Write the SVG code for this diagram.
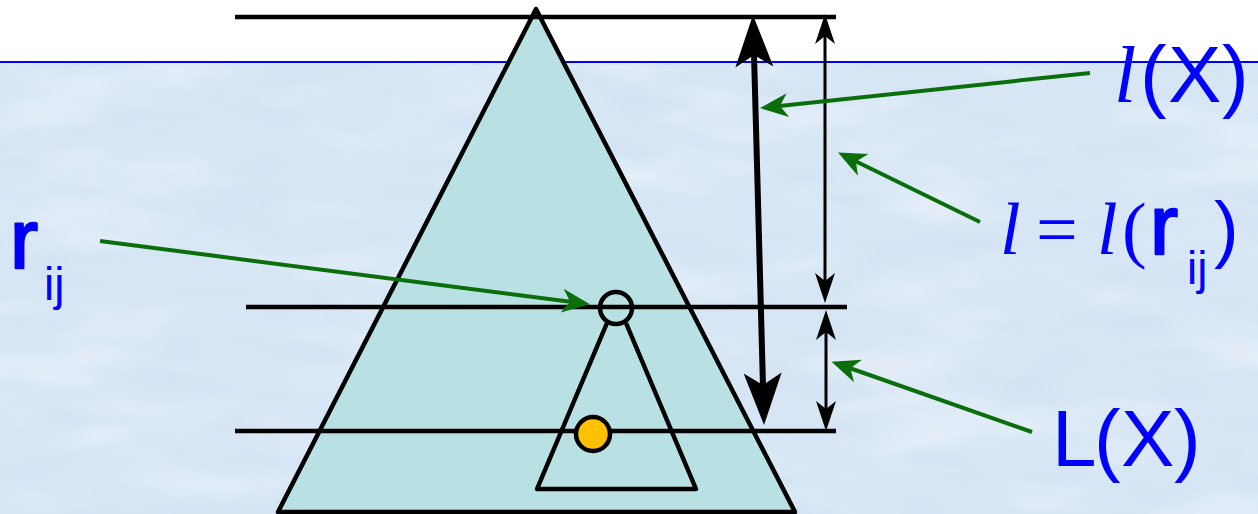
<svg xmlns="http://www.w3.org/2000/svg" width="1258" height="514" viewBox="0 0 1258 514">
<style>
.blk{stroke:#000;fill:none;stroke-width:4.5;stroke-linecap:butt}
.grn{stroke:#0a6e0a;stroke-width:4;fill:none}
.lbl{fill:#0000ff;font-family:"Liberation Sans",Arial,sans-serif}
.it{font-family:"Liberation Serif","Times New Roman",serif;font-style:italic}
.sr{font-family:"Liberation Serif","Times New Roman",serif}
.r{stroke:#0000ff;stroke-width:2.5;stroke-linejoin:round}
</style>
<defs>
<filter id="tex" x="0" y="0" width="100%" height="100%">
<feTurbulence type="fractalNoise" baseFrequency="0.006 0.02" numOctaves="3" seed="7"/>
<feColorMatrix type="matrix" values="0 0 0 0 1  0 0 0 0 1  0 0 0 0 1  1.6 0 0 0 -0.75"/>
</filter>
<filter id="tex2" x="0" y="0" width="100%" height="100%">
<feTurbulence type="fractalNoise" baseFrequency="0.01 0.03" numOctaves="2" seed="21"/>
<feColorMatrix type="matrix" values="0 0 0 0 0.55  0 0 0 0 0.65  0 0 0 0 0.8  1.4 0 0 0 -0.7"/>
</filter>
<marker id="bigHead" markerUnits="userSpaceOnUse" viewBox="-58 -22 60 44" markerWidth="60" markerHeight="44" refX="-20" refY="0" orient="auto-start-reverse">
<path d="M0,0 L-52,-19 L-40,0 L-52,19 Z" fill="#000"/>
</marker>
<marker id="thinHead" markerUnits="userSpaceOnUse" viewBox="-32 -12 34 24" markerWidth="34" markerHeight="24" refX="-10" refY="0" orient="auto-start-reverse">
<path d="M0,0 L-30,-10 L-22,0 L-30,10 Z" fill="#000"/>
</marker>
<marker id="grnHead" markerUnits="userSpaceOnUse" viewBox="-32 -14 34 28" markerWidth="34" markerHeight="28" refX="-10" refY="0" orient="auto">
<path d="M0,0 L-28,-12 L-20,0 L-28,12 Z" fill="#0a6e0a"/>
</marker>
</defs>
<g id="background">
<rect x="0" y="0" width="1258" height="514" fill="#ffffff"/>
<rect x="0" y="62" width="1258" height="452" fill="#d7e6f5"/>
<rect x="0" y="62" width="1258" height="452" filter="url(#tex)" opacity="0.6"/>
<rect x="0" y="62" width="1258" height="452" filter="url(#tex2)" opacity="0.35"/>
<line x1="0" y1="62" x2="1258" y2="62" stroke="#0000ff" stroke-width="2"/>
</g>
<g id="big-triangle">
<polygon points="536,9 278,512 795,512" fill="#b9e0e2" stroke="#000" stroke-width="4.5" stroke-linejoin="round"/>
</g>
<g id="levels">
<line class="blk" x1="235" y1="17" x2="836" y2="17"/>
<line class="blk" x1="246" y1="307" x2="847" y2="307"/>
<line class="blk" x1="235" y1="431" x2="836" y2="431"/>
</g>
<g id="subtree">
<polyline points="607,323 537,489 696,489 626,323" fill="none" stroke="#000" stroke-width="4.5" stroke-linejoin="round"/>
</g>
<g id="node-rij">
<circle cx="616" cy="308" r="16" fill="none" stroke="#000" stroke-width="4.5"/>
</g>
<g id="node-X">
<circle cx="593" cy="434" r="17" fill="#ffc000" stroke="#000" stroke-width="4.5"/>
</g>
<g id="connectors">
<path d="M753.5,35 L763.5,405" stroke="#000" stroke-width="6" fill="none" marker-start="url(#bigHead)" marker-end="url(#bigHead)"/>
<path d="M825,24 L825,293" stroke="#000" stroke-width="3" fill="none" marker-start="url(#thinHead)" marker-end="url(#thinHead)"/>
<path d="M826,320 L826,421" stroke="#000" stroke-width="3" fill="none" marker-start="url(#thinHead)" marker-end="url(#thinHead)"/>
<path class="grn" d="M1090,73 L770,107" marker-end="url(#grnHead)"/>
<path class="grn" d="M980,222 L847,157" marker-end="url(#grnHead)"/>
<path class="grn" d="M100,241 L580,303" marker-end="url(#grnHead)"/>
<path class="grn" d="M1032,432 L841,365" marker-end="url(#grnHead)"/>
</g>
<g id="label-lX">
<text class="lbl" y="102" font-size="80"><tspan class="it" x="1114">l</tspan><tspan x="1140">(</tspan><tspan x="1168">X</tspan><tspan x="1222">)</tspan></text>
</g>
<g id="label-l-eq">
<text class="lbl" y="254" font-size="74"><tspan class="it" x="1000">l</tspan><tspan class="sr" x="1036">=</tspan><tspan class="it" x="1097">l</tspan><tspan class="sr" x="1122">(</tspan><tspan class="r" x="1150" font-size="84">r</tspan><tspan x="1187" y="284" font-size="46">ij</tspan><tspan x="1214" y="254">)</tspan></text>
</g>
<g id="label-LX">
<text class="lbl" y="466" font-size="80"><tspan x="1052">L</tspan><tspan x="1094">(</tspan><tspan x="1121">X</tspan><tspan x="1174">)</tspan></text>
</g>
<g id="label-rij">
<text class="lbl" y="268" font-size="84"><tspan class="r" x="10">r</tspan><tspan x="44" y="300" font-size="46">ij</tspan></text>
</g>
</svg>
